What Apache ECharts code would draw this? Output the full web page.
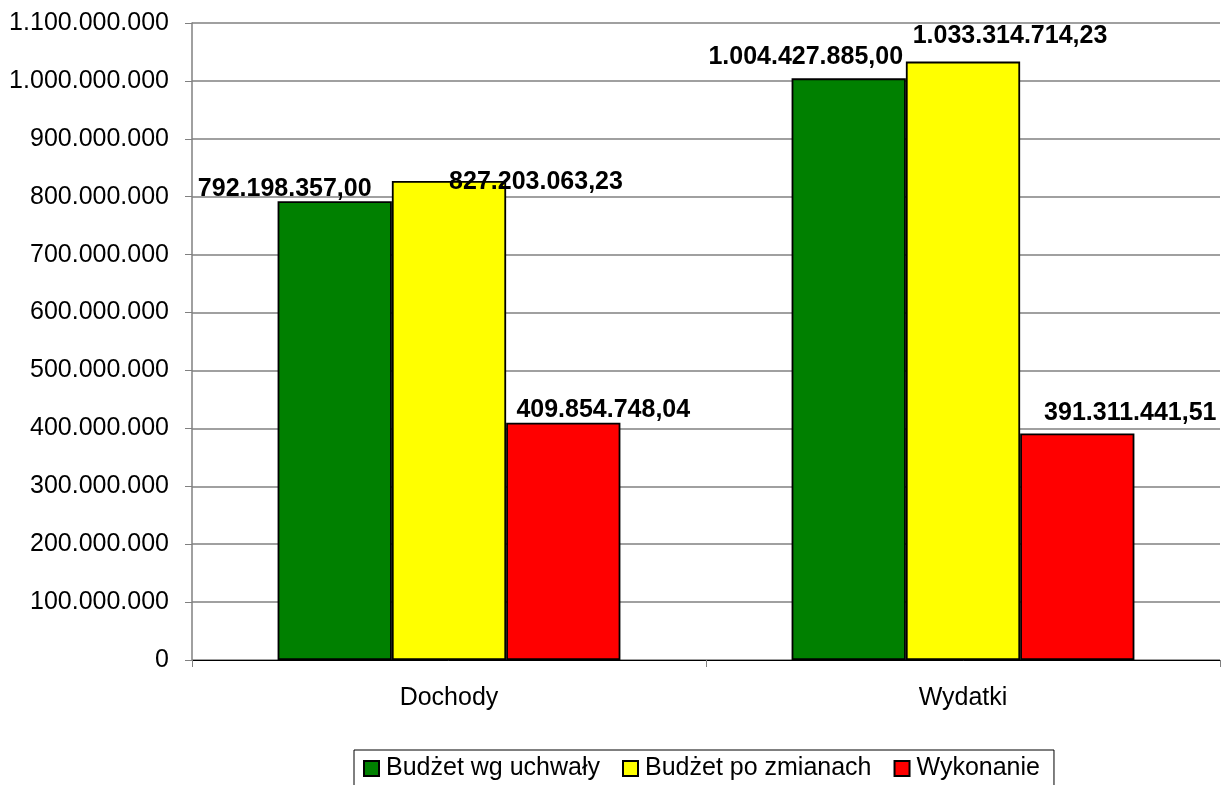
<!DOCTYPE html>
<html lang="pl">
<head>
    <meta charset="UTF-8">
    <title>Budżet</title>
    <script src="https://cdn.jsdelivr.net/npm/echarts@6/dist/echarts.min.js"></script>
    <style>
        html, body { margin: 0; padding: 0; background: #fff; }
        #main { width: 1223px; height: 785px; }
    </style>
</head>
<body>
    <div id="main"></div>
<script>
    var categories = ['Dochody', 'Wydatki'];
    var seriesNames = ['Budżet wg uchwały', 'Budżet po zmianach', 'Wykonanie'];
    var uchwala = [792198357.00, 1004427885.00];
    var poZmianach = [827203063.23, 1033314714.23];
    var wykonanie = [409854748.04, 391311441.51];
    var colors = ['#008000', '#ffff00', '#ff0000'];

    // przesunięcia etykiet jak w oryginale [dx, dy]
    var labelOffsets = [
        [[-50, 5], [-43, -4]],
        [[87, 19], [47, -8]],
        [[40, 5], [53, -3]]
    ];

    function fmtInt(v) {
        return String(Math.round(v)).replace(/\B(?=(\d{3})+(?!\d))/g, '.');
    }
    function fmtMoney(v) {
        var s = v.toFixed(2).split('.');
        return fmtInt(Number(s[0])) + ',' + s[1];
    }

    var allData = [uchwala, poZmianach, wykonanie];
    var series = [];
    for (var i = 0; i < allData.length; i++) {
        var d = [];
        for (var j = 0; j < allData[i].length; j++) {
            d.push({
                value: allData[i][j],
                label: { offset: labelOffsets[i][j] }
            });
        }
        series.push({
            name: seriesNames[i],
            type: 'bar',
            data: d,
            barGap: '0%',
            barCategoryGap: '33.3%',
            itemStyle: { color: colors[i], borderColor: '#000', borderWidth: 1.8 },
            label: {
                show: true,
                position: 'top',
                fontFamily: 'Liberation Sans, Arial',
                fontWeight: 'bold',
                fontSize: 25,
                color: '#000',
                formatter: function (p) { return fmtMoney(p.value); }
            }
        });
    }

    var option = {
        animation: false,
        backgroundColor: '#fff',
        textStyle: { fontFamily: 'Liberation Sans, Arial' },
        grid: { left: 192, right: 3, top: 23, bottom: 125 },
        legend: {
            data: seriesNames,
            left: 354,
            top: 750,
            icon: 'rect',
            itemWidth: 15,
            itemHeight: 15,
            itemGap: 22,
            borderColor: '#000',
            borderWidth: 1,
            padding: [6, 14, 6, 9],
            textStyle: { fontSize: 25, color: '#000', padding: [0, 0, 0, 2] }
        },
        xAxis: {
            type: 'category',
            data: categories,
            axisLine: { lineStyle: { color: '#000', width: 1 } },
            axisTick: { show: true, length: 7, lineStyle: { color: '#808080' } },
            axisLabel: { fontSize: 25, color: '#000', margin: 26 }
        },
        yAxis: {
            type: 'value',
            min: 0,
            max: 1100000000,
            interval: 100000000,
            axisLine: { show: true, lineStyle: { color: '#808080', width: 1.5 } },
            axisTick: { show: true, length: 7, lineStyle: { color: '#808080' } },
            splitLine: { lineStyle: { color: '#808080', width: 1.5 } },
            axisLabel: {
                fontSize: 25,
                color: '#000',
                margin: 23,
                formatter: function (v) { return fmtInt(v); }
            }
        },
        series: series
    };

    var myChart = echarts.init(document.getElementById('main'));
    myChart.setOption(option);
</script>
</body>
</html>
